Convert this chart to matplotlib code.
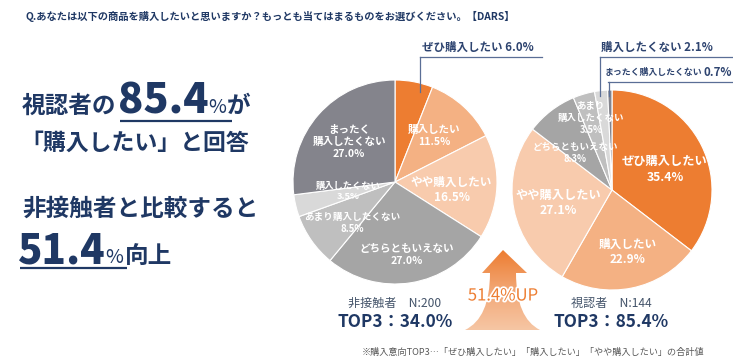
import numpy as np
import matplotlib
matplotlib.use("Agg")
import matplotlib.pyplot as plt
from matplotlib.path import Path
from matplotlib.patches import PathPatch
import matplotlib.patheffects as pe
from matplotlib.colors import LinearSegmentedColormap

plt.rcParams['font.family'] = ['Noto Sans CJK JP', 'DejaVu Sans']

# ---------------- data ----------------
categories = ['ぜひ購入したい', '購入したい', 'やや購入したい', 'どちらともいえない',
              'あまり購入したくない', '購入したくない', 'まったく購入したくない']
non_contact = [6.0, 11.5, 16.5, 27.0, 8.5, 3.5, 27.0]   # 非接触者 N:200
viewers = [35.4, 22.9, 27.1, 8.3, 3.5, 2.1, 0.7]        # 視認者 N:144
left_names = ['', '購入したい', 'やや購入したい', 'どちらともいえない',
              'あまり購入したくない', '購入したくない', 'まったく\n購入したくない']
right_names = ['ぜひ購入したい', '購入したい', 'やや購入したい', 'どちらともいえない',
               'あまり\n購入したくない', '', '']
n_left, n_right = 200, 144
top3_left, top3_right = 34.0, 85.4
uplift = 51.4

colors = ['#ED7D31', '#F4B183', '#F8CBAD', '#A5A5A5', '#BFBFBF', '#D9D9D9', '#84848C']
NAVY = '#1F3864'

W, H = 733, 362
fig = plt.figure(figsize=(W / 100, H / 100), dpi=100)
fig.patch.set_facecolor('white')


def pie_axes(cx, cy, r):
    return fig.add_axes([(cx - r) / W, (H - cy - r) / H, 2 * r / W, 2 * r / H], zorder=1)


def draw_pie(ax, values, names, dists, shifts, sizes):
    ax.pie(values, startangle=90, counterclock=False, colors=colors,
           radius=1.0, wedgeprops=dict(edgecolor='white', linewidth=0.8))
    ax.set_xlim(-1, 1)
    ax.set_ylim(-1, 1)
    ax.set_aspect('equal')
    ax.axis('off')
    cum = np.cumsum([0] + list(values))
    for i, (v, nm) in enumerate(zip(values, names)):
        if not nm:
            continue
        mid = np.deg2rad((cum[i] + cum[i + 1]) / 2 * 3.6 + shifts[i])
        d = dists[i]
        ax.text(d * np.sin(mid), d * np.cos(mid), f"{nm}\n{v:.1f}%", ha='center', va='center',
                color='white', fontsize=sizes[i], fontweight='bold', linespacing=1.25)


axL = pie_axes(395, 182, 102)
draw_pie(axL, non_contact, left_names,
         [0, 0.59, 0.56, 0.72, 0.58, 0.47, 0.6],
         [0, -2, 5, 0, -9, 2, 0],
         [0, 7.6, 8.4, 7.6, 6.9, 6.7, 7.6])
axR = pie_axes(612, 190, 100)
draw_pie(axR, viewers, right_names,
         [0.57, 0.64, 0.555, 0.52, 0.75, 0, 0],
         [5, -3, -2, -7, 0, 0, 0],
         [8.8, 8.4, 8.8, 6.8, 6.8, 0, 0])

# ---------------- overlay ----------------
ax = fig.add_axes([0, 0, 1, 1], zorder=3)
ax.set_xlim(0, W)
ax.set_ylim(H, 0)
ax.axis('off')
ax.patch.set_alpha(0)
renderer = fig.canvas.get_renderer()


def chain(x, y, pieces):
    """pieces: list of (text, kwargs, gap_after_px)"""
    for s, kw, gap in pieces:
        t = ax.text(x, y, s, va='baseline', ha='left', color=NAVY, **kw)
        bb = t.get_window_extent(renderer)
        x += bb.width + gap
    return x


ax.text(25, 16, 'Q.あなたは以下の商品を購入したいと思いますか？もっとも当てはまるものをお選びください。【DARS】',
        fontsize=7.4, fontweight='bold', color=NAVY, va='center', ha='left')

# left headline block
chain(22, 113, [('視認者の', dict(fontsize=17, fontweight='bold'), 1),
                (f'{top3_right:.1f}', dict(fontsize=30, fontweight='heavy'), 0),
                ('%', dict(fontsize=14), 1),
                ('が', dict(fontsize=17, fontweight='bold'), 0)])
ax.plot([120, 232], [121, 121], color=NAVY, lw=1.6, solid_capstyle='butt')
ax.text(20, 143, '「購入したい」と回答', fontsize=16.5, fontweight='bold', color=NAVY, va='center')
ax.text(22, 209, '非接触者と比較すると', fontsize=17, fontweight='bold', color=NAVY, va='center')
chain(18, 263, [(f'{uplift:.1f}', dict(fontsize=29, fontweight='heavy'), 0),
                ('%', dict(fontsize=14), 1),
                ('向上', dict(fontsize=17, fontweight='bold'), 0)])
ax.plot([20, 127], [268, 268], color=NAVY, lw=1.6, solid_capstyle='butt')

# leader labels
LC = '#2E4470'
LL = '#5A6E96'
ax.text(422, 47, f'{categories[0]} {non_contact[0]:.1f}%', fontsize=8.3, fontweight='bold',
        color=LC, va='center', ha='left')
ax.plot([420, 542], [57, 57], color=LL, lw=0.9)
ax.plot([420, 420], [57, 92], color=LL, lw=0.9)

ax.text(601, 47, f'{categories[5]} {viewers[5]:.1f}%', fontsize=8.3, fontweight='bold',
        color=LC, va='center', ha='left')
ax.plot([600, 733], [57, 57], color=LL, lw=0.9)
ax.plot([600, 600], [57, 96], color=LL, lw=0.9)
ax.text(605, 73, categories[6], fontsize=6.4, fontweight='bold', color=LC, va='center', ha='left')
ax.text(703, 73, f'{viewers[6]:.1f}%', fontsize=8.3, fontweight='bold', color=LC, va='center', ha='left')
ax.plot([608, 733], [82, 82], color=LL, lw=0.9)
ax.plot([609, 609], [82, 96], color=LL, lw=0.9)

# bottom captions
ax.text(395, 303, f'非接触者　N:{n_left}', fontsize=8.7, color='#44546A', ha='center', va='center')
ax.text(395, 322, f'TOP3：{top3_left:.1f}%', fontsize=12.4, fontweight='bold', color=NAVY,
        ha='center', va='center')
ax.text(611, 303, f'視認者　N:{n_right}', fontsize=8.7, color='#44546A', ha='center', va='center')
ax.text(611, 322, f'TOP3：{top3_right:.1f}%', fontsize=12.4, fontweight='bold', color=NAVY,
        ha='center', va='center')
ax.text(362, 352, '※購入意向TOP3…「ぜひ購入したい」「購入したい」「やや購入したい」の合計値',
        fontsize=6.6, color='#595959', ha='left', va='center')

# gradient arrow
verts = [(503, 250), (527, 273), (516, 273), (516, 318), (540, 330), (465, 330),
         (490, 318), (490, 273), (482, 273), (503, 250)]
codes = [Path.MOVETO, Path.LINETO, Path.LINETO, Path.CURVE3, Path.CURVE3, Path.LINETO,
         Path.CURVE3, Path.CURVE3, Path.LINETO, Path.CLOSEPOLY]
patch = PathPatch(Path(verts, codes), facecolor='none', edgecolor='none')
ax.add_patch(patch)
cmap = LinearSegmentedColormap.from_list('arr', ['#ED7D31', '#F2A775', '#F6C6A4'])
grad = np.linspace(0, 1, 200).reshape(-1, 1)
im = ax.imshow(grad, cmap=cmap, extent=(465, 540, 330, 250), origin='upper',
               aspect='auto', interpolation='bilinear', zorder=2)
im.set_clip_path(patch)
ax.set_xlim(0, W)
ax.set_ylim(H, 0)

ax.text(503, 296, f'{uplift:.1f}%UP', fontsize=12, color='#ED7D31', ha='center', va='center',
        zorder=4, path_effects=[pe.withStroke(linewidth=2.5, foreground='white')])

fig.savefig('out.png', dpi=100)
